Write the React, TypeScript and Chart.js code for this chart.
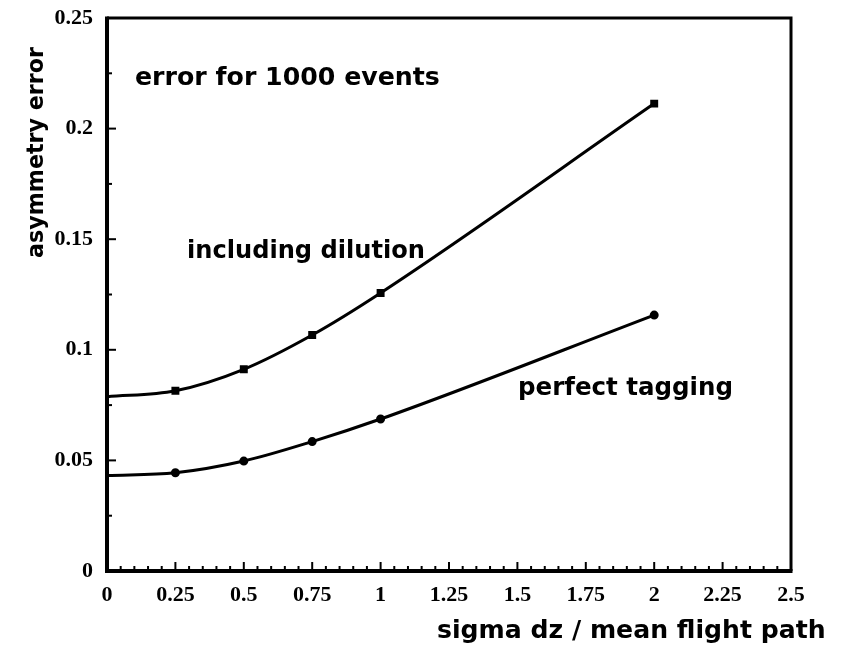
import React, { useEffect, useRef } from "react";
import { Chart, registerables } from "chart.js";

Chart.register(...registerables);

const xValues = [0, 0.25, 0.5, 0.75, 1, 2];
const dilution = [0.0788, 0.0815, 0.0912, 0.1067, 0.1257, 0.2113];
const perfect = [0.0432, 0.0444, 0.0497, 0.0585, 0.0687, 0.1157];
const pointShown = [0, 1, 1, 1, 1, 1];

const xTickValues = [0, 0.25, 0.5, 0.75, 1, 1.25, 1.5, 1.75, 2, 2.25, 2.5];
const xTickLabels = ["0", "0.25", "0.5", "0.75", "1", "1.25", "1.5", "1.75", "2", "2.25", "2.5"];
const yTickValues = [0, 0.05, 0.1, 0.15, 0.2, 0.25];
const yTickLabels = ["0", "0.05", "0.1", "0.15", "0.2", "0.25"];

const xTitle = "sigma dz / mean flight path";
const yTitle = "asymmetry error";
const notes = [
  { text: "error for 1000 events", x: 135, y: 85, w: 305 },
  { text: "including dilution", x: 187, y: 258, w: 238 },
  { text: "perfect tagging", x: 518, y: 395, w: 215 },
];

const TEXT_FONT = '"DejaVu Sans", sans-serif';

function fitFont(ctx: CanvasRenderingContext2D, text: string, w: number) {
  ctx.font = `bold 20px ${TEXT_FONT}`;
  const m = ctx.measureText(text).width;
  const size = (20 * w) / m;
  ctx.font = `bold ${size}px ${TEXT_FONT}`;
}

const framePlugin = {
  id: "frame",
  afterDraw(chart: any) {
    const { ctx, chartArea, scales } = chart;
    const { left, top, right, bottom } = chartArea;
    const xs = scales.x;
    const ys = scales.y;
    ctx.save();
    ctx.strokeStyle = "#000";
    ctx.lineCap = "butt";
    ctx.lineWidth = 2;
    for (let i = 0; i <= 50; i++) {
      const v = i * 0.05;
      const px = xs.getPixelForValue(v);
      const major = i % 5 === 0;
      ctx.beginPath();
      ctx.moveTo(px, bottom);
      ctx.lineTo(px, bottom - (major ? 9 : 5));
      ctx.stroke();
    }
    for (let i = 0; i <= 10; i++) {
      const v = i * 0.025;
      const py = ys.getPixelForValue(v);
      const major = i % 2 === 0;
      ctx.beginPath();
      ctx.moveTo(left, py);
      ctx.lineTo(left + (major ? 9 : 5), py);
      ctx.stroke();
    }
    ctx.lineWidth = 3;
    ctx.beginPath();
    ctx.moveTo(left, top);
    ctx.lineTo(right, top);
    ctx.lineTo(right, bottom);
    ctx.stroke();
    ctx.lineWidth = 4;
    ctx.beginPath();
    ctx.moveTo(left, top - 1.5);
    ctx.lineTo(left, bottom);
    ctx.lineTo(right + 1.5, bottom);
    ctx.stroke();

    ctx.fillStyle = "#000";
    ctx.textAlign = "left";
    ctx.textBaseline = "alphabetic";
    for (const n of notes) {
      fitFont(ctx, n.text, n.w);
      ctx.fillText(n.text, n.x, n.y);
    }
    fitFont(ctx, xTitle, 389);
    ctx.fillText(xTitle, 437, 638);
    ctx.save();
    ctx.translate(43, 258);
    ctx.rotate(-Math.PI / 2);
    fitFont(ctx, yTitle, 211);
    ctx.fillText(yTitle, 0, 0);
    ctx.restore();
    ctx.restore();
  },
};

export default function App() {
  const ref = useRef<HTMLCanvasElement>(null);
  useEffect(() => {
    if (!ref.current) return;
    const tickFont = { family: '"Liberation Serif", serif', size: 22, weight: "bold" as const };
    const chart = new Chart(ref.current, {
      type: "line",
      data: {
        datasets: [
          {
            label: "including dilution",
            data: xValues.map((x, i) => ({ x, y: dilution[i] })),
            borderColor: "#000",
            backgroundColor: "#000",
            borderWidth: 3,
            pointStyle: "rect",
            pointRadius: pointShown.map((s) => (s ? 3.5 : 0)),
            cubicInterpolationMode: "monotone",
          },
          {
            label: "perfect tagging",
            data: xValues.map((x, i) => ({ x, y: perfect[i] })),
            borderColor: "#000",
            backgroundColor: "#000",
            borderWidth: 3,
            pointStyle: "circle",
            pointRadius: pointShown.map((s) => (s ? 3 : 0)),
            cubicInterpolationMode: "monotone",
          },
        ],
      },
      options: {
        animation: false,
        responsive: false,
        devicePixelRatio: 1,
        layout: { padding: { left: 0, top: 18, right: 64, bottom: 0 } },
        plugins: { legend: { display: false }, tooltip: { enabled: false } },
        scales: {
          x: {
            type: "linear",
            min: 0,
            max: 2.5,
            grid: { display: false, drawTicks: false },
            border: { display: false },
            afterBuildTicks: (s: any) => {
              s.ticks = xTickValues.map((v) => ({ value: v }));
            },
            afterFit: (s: any) => {
              s.height = 74;
              s.paddingLeft = 0;
              s.paddingRight = 0;
            },
            ticks: {
              color: "#000",
              font: tickFont,
              padding: 11,
              maxRotation: 0,
              autoSkip: false,
              callback: (v: any) => {
                const i = xTickValues.findIndex((t) => Math.abs(t - v) < 1e-9);
                return i >= 0 ? xTickLabels[i] : "";
              },
            },
          },
          y: {
            type: "linear",
            min: 0,
            max: 0.25,
            grid: { display: false, drawTicks: false },
            border: { display: false },
            afterBuildTicks: (s: any) => {
              s.ticks = yTickValues.map((v) => ({ value: v }));
            },
            afterFit: (s: any) => {
              s.width = 107;
              s.paddingTop = 0;
              s.paddingBottom = 0;
            },
            ticks: {
              color: "#000",
              font: tickFont,
              padding: 14,
              autoSkip: false,
              callback: (v: any) => {
                const i = yTickValues.findIndex((t) => Math.abs(t - v) < 1e-9);
                return i >= 0 ? yTickLabels[i] : "";
              },
            },
          },
        },
      },
      plugins: [framePlugin],
    } as any);
    return () => chart.destroy();
  }, []);
  return (
    <div style={{ position: "absolute", left: 0, top: 0, width: 855, height: 645, background: "#fff" }}>
      <canvas ref={ref} width={855} height={645} style={{ width: 855, height: 645, display: "block" }} />
    </div>
  );
}
